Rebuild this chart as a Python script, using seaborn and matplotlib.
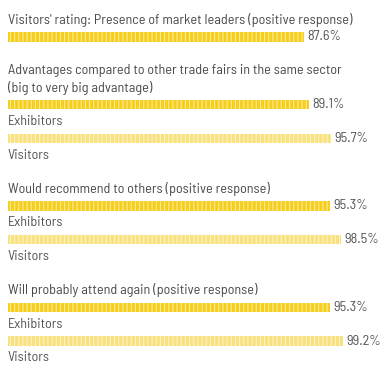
import matplotlib
matplotlib.use("Agg")
import matplotlib.pyplot as plt
from matplotlib import font_manager
import pandas as pd
import seaborn as sns

# data
section_titles = [
    "Visitors' rating: Presence of market leaders (positive response)",
    "Advantages compared to other trade fairs in the same sector\n(big to very big advantage)",
    "Would recommend to others (positive response)",
    "Will probably attend again (positive response)",
]
bar_section = [0, 1, 1, 2, 2, 3, 3]
bar_group = ["Visitors' rating", "Exhibitors", "Visitors", "Exhibitors", "Visitors", "Exhibitors", "Visitors"]
bar_values = [87.6, 89.1, 95.7, 95.3, 98.5, 95.3, 99.2]
bar_labels = ["87.6%", "89.1%", "95.7%", "95.3%", "98.5%", "95.3%", "99.2%"]

palette = {"Visitors' rating": "#f6cf1e", "Exhibitors": "#f6cf1e", "Visitors": "#f8e280"}
text_color = "#555555"

names = {f.name for f in font_manager.fontManager.ttflist}
family = next((n for n in ["Barlow Semi Condensed", "Roboto Condensed", "Liberation Sans Narrow"]
               if n in names), "DejaVu Sans")

sns.set_theme(style="white")
plt.rcParams["font.family"] = [family, "DejaVu Sans"]
plt.rcParams["hatch.linewidth"] = 0.7

# layout: every text line / bar gets one row slot on a 17 px grid
rows = []
bar_slot = []
for s, title in enumerate(section_titles):
    if s > 0:
        rows.append(("blank", None))
    for line in title.split("\n"):
        rows.append(("title", line))
    for i, sec in enumerate(bar_section):
        if sec != s:
            continue
        bar_slot.append(len(rows))
        rows.append(("bar", i))
        if bar_group[i] != "Visitors' rating":
            rows.append(("group", bar_group[i]))
slots = [f"r{k}" for k in range(len(rows))]

df = pd.DataFrame({
    "slot": [slots[k] for k in bar_slot],
    "value": bar_values,
    "group": bar_group,
})

fig = plt.figure(figsize=(3.84, 3.72), dpi=100)
ax = fig.add_axes([8 / 384, 0, 338 / 384, 1])
sns.barplot(data=df, x="value", y="slot", hue="group", order=slots, palette=palette,
            orient="h", width=0.55, dodge=False, legend=False, ax=ax, saturation=1,
            edgecolor="white", linewidth=0)
for p in ax.patches:
    p.set_hatch("||||")
    p.set_edgecolor((1, 1, 1, 0.6))

pitch = 16.9
top = 20
ax.set_xlim(0, 100)
ax.set_ylim((372 - top) / pitch, -top / pitch)
ax.axis("off")

fs = 10.2
for k, (kind, payload) in enumerate(rows):
    if kind == "title":
        ax.text(0, k, payload, va="center", ha="left", fontsize=fs, color="#4a4a4a")
    elif kind == "group":
        ax.text(0, k, payload, va="center", ha="left", fontsize=fs, color=text_color)
    elif kind == "bar":
        ax.text(bar_values[payload] + 0.9, k, bar_labels[payload], va="center", ha="left",
                fontsize=fs, color=text_color)

fig.savefig("out.png", dpi=100)
